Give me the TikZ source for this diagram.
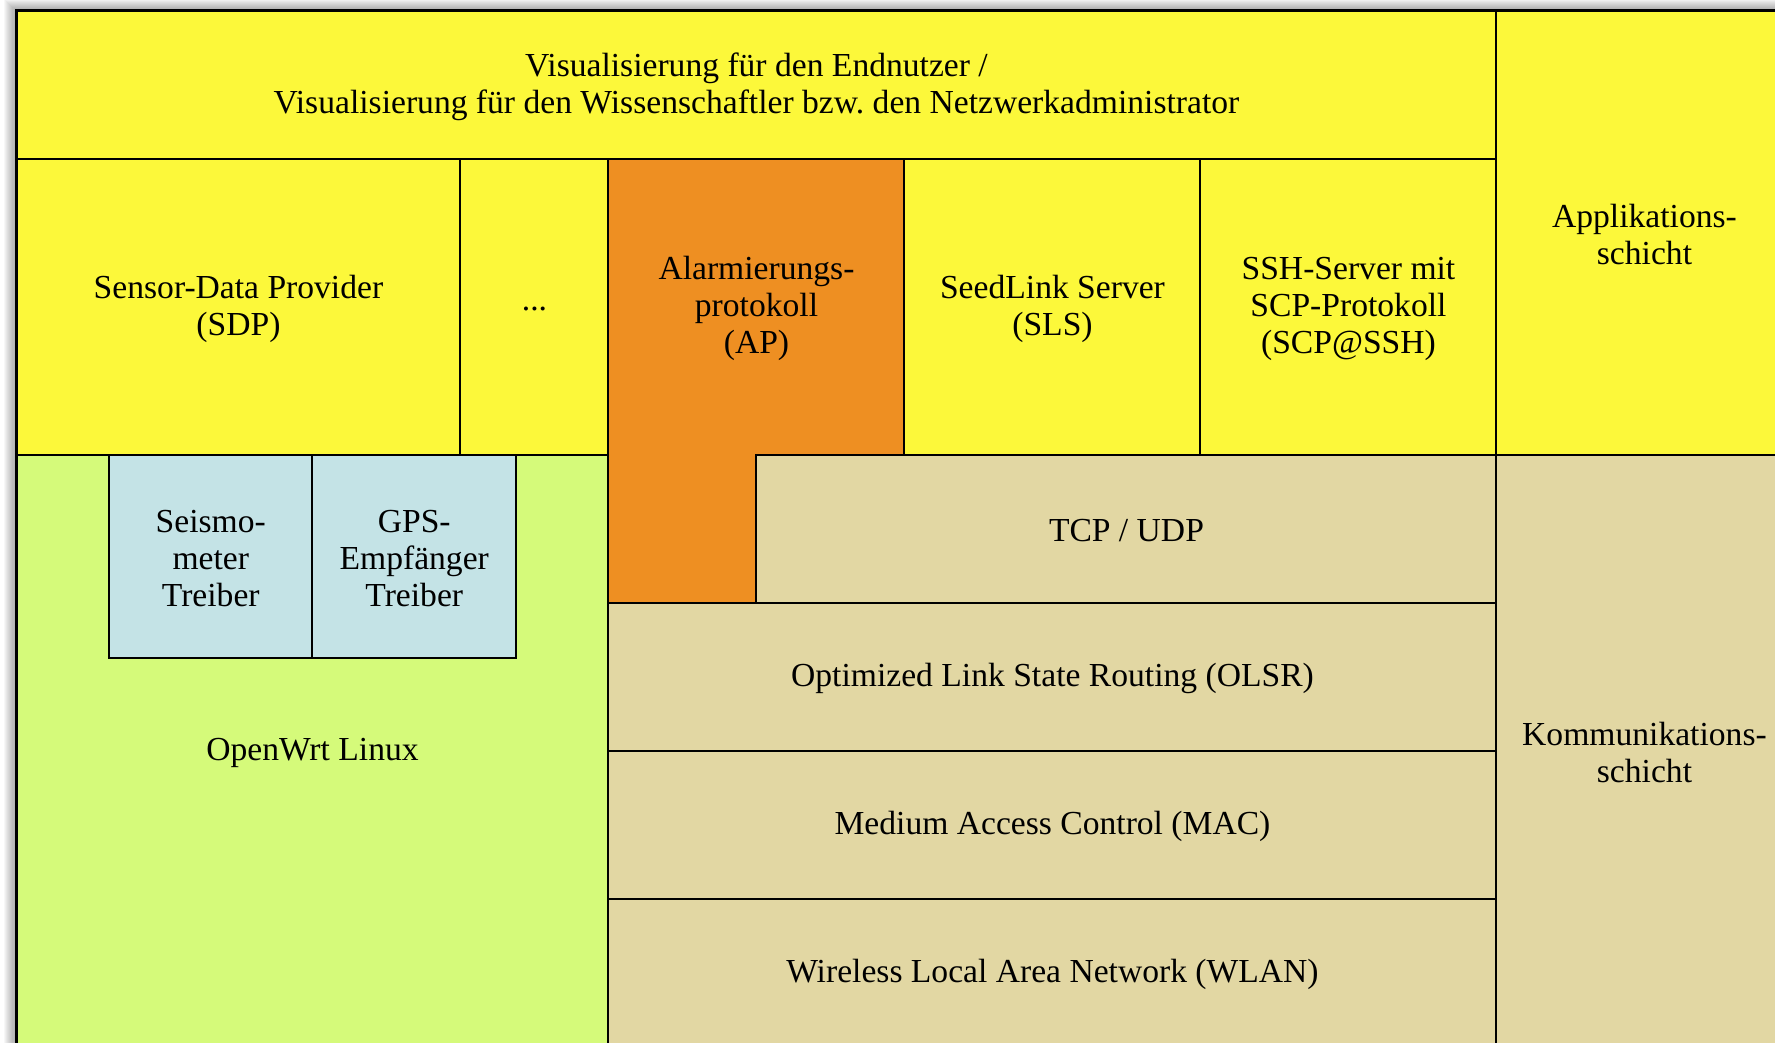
\documentclass[tikz,border=0pt]{standalone}
\usepackage{fontspec}
\setmainfont{Liberation Serif}
\frenchspacing
\definecolor{cyellow}{HTML}{FCF83A}
\definecolor{corange}{HTML}{EE8F22}
\definecolor{cgreen}{HTML}{D5FA7A}
\definecolor{ctan}{HTML}{E2D7A3}
\definecolor{cblue}{HTML}{C4E3E6}
\tikzset{
  box/.style={draw=black, line width=1pt},
  lbl/.style={align=center, inner sep=0pt, yshift=-1.1pt, font=\fontsize{16.8}{18.4}\selectfont},
}
\begin{document}
\begin{tikzpicture}[x=74pt,y=-74pt]
\clip (-0.1115,-0.0710) rectangle (11.882,6.970);
\fill[white] (-0.1115,-0.0710) rectangle (11.882,6.970);
% soft shadow
\foreach \i in {1,...,12}{
  \fill[black,opacity=0.03] (-\i*0.00676,-\i*0.00676) rectangle (12+\i*0.00676,7+\i*0.00676);
}
% top row
\path[box,fill=cyellow] (0,0) rectangle (10,1);
\node[lbl] (vis) at (5,0.5) {Visualisierung für den Endnutzer /\\Visualisierung für den Wissenschaftler bzw. den Netzwerkadministrator};
% application column
\path[box,fill=cyellow] (10,0) rectangle (12,3);
\node[lbl] (app) at (11,1.5) {Applikations-\\schicht};
% second row
\path[box,fill=cyellow] (0,1) rectangle (3,3);
\node[lbl] (sdp) at (1.5,2) {Sensor-Data Provider\\(SDP)};
\path[box,fill=cyellow] (3,1) rectangle (4,3);
\node[lbl] (dots) at (3.5,2) {...};
\path[box,fill=corange] (4,1) -- (6,1) -- (6,3) -- (5,3) -- (5,4) -- (4,4) -- cycle;
\node[lbl] (ap) at (5,2) {Alarmierungs-\\protokoll\\(AP)};
\path[box,fill=cyellow] (6,1) rectangle (8,3);
\node[lbl] (sls) at (7,2) {SeedLink Server\\(SLS)};
\path[box,fill=cyellow] (8,1) rectangle (10,3);
\node[lbl] (ssh) at (9,2) {SSH-Server mit\\SCP-Protokoll\\(SCP@SSH)};
% OpenWrt
\path[box,fill=cgreen] (0,3) rectangle (4,7);
\node[lbl] (owrt) at (2,5) {OpenWrt Linux};
\path[box,fill=cblue] (0.625,3) rectangle (2,4.375);
\node[lbl] (seis) at (1.3125,3.6875) {Seismo-\\meter\\Treiber};
\path[box,fill=cblue] (2,3) rectangle (3.375,4.375);
\node[lbl] (gps) at (2.6875,3.6875) {GPS-\\Empfänger\\Treiber};
% communication stack
\path[box,fill=ctan] (5,3) rectangle (10,4);
\node[lbl] (tcp) at (7.5,3.5) {TCP / UDP};
\path[box,fill=ctan] (4,4) rectangle (10,5);
\node[lbl] (olsr) at (7,4.5) {Optimized Link State Routing (OLSR)};
\path[box,fill=ctan] (4,5) rectangle (10,6);
\node[lbl] (mac) at (7,5.5) {Medium Access Control (MAC)};
\path[box,fill=ctan] (4,6) rectangle (10,7);
\node[lbl] (wlan) at (7,6.5) {Wireless Local Area Network (WLAN)};
\path[box,fill=ctan] (10,3) rectangle (12,7);
\node[lbl] (komm) at (11,5) {Kommunikations-\\schicht};
% outer frame
\draw[line width=1.2pt] (0,0) rectangle (12,7);
\end{tikzpicture}
\end{document}
